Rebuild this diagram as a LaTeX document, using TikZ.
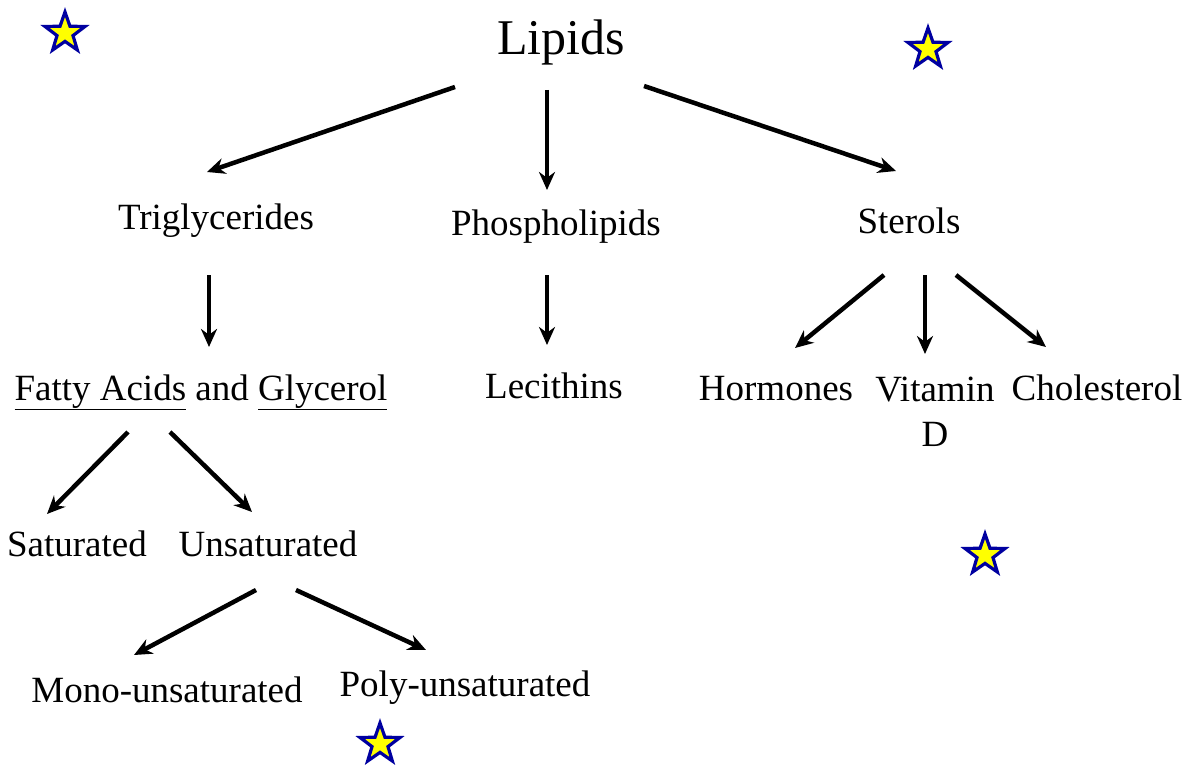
\documentclass[tikz,border=0pt]{standalone}
\usepackage{fontspec}
\setmainfont{Liberation Serif}
\usepackage{tikz}
\usetikzlibrary{arrows.meta,shapes.geometric}
\definecolor{starblue}{RGB}{0,0,160}
\definecolor{staryellow}{RGB}{255,255,0}

\begin{document}
\begin{tikzpicture}[x=1pt,y=-1pt,
  lbl/.style={anchor=base,inner sep=0pt,font=\fontsize{37}{45}\selectfont},
  arr/.style={-{Stealth[length=18pt,width=16pt]},line width=4.5pt},
  starmark/.style={star,star points=5,star point ratio=2.5,minimum size=42pt,
    inner sep=0pt,fill=staryellow,draw=starblue,line width=3.2pt}]
% Page frame
\useasboundingbox (0,0) rectangle (1193,767);

% Top level
\node[lbl,font=\fontsize{50}{58}\selectfont] (lipids) at (561,55) {Lipids};

% Second level
\node[lbl] (trig) at (216,230) {Triglycerides};
\node[lbl] (phos) at (556,236) {Phospholipids};
\node[lbl] (sterols) at (909,234) {Sterols};

% Third level
\node[lbl] (fatty) at (201,400) {\underline{Fatty Acids} and \underline{Glycerol}};
\node[lbl] (lec) at (554,398) {Lecithins};
\node[lbl] (horm) at (776,400) {Hormones};
\node[lbl,align=center] (vit) at (935,446) {Vitamin\\D};
\node[lbl] (chol) at (1097,400) {Cholesterol};

% Fatty acid types
\node[lbl] (sat) at (77,556) {Saturated};
\node[lbl] (unsat) at (268,556) {Unsaturated};
\node[lbl] (mono) at (167,702) {Mono-unsaturated};
\node[lbl] (poly) at (465,696) {Poly-unsaturated};

% Arrows
\draw[arr] ([shift={(-106,32)}]lipids.base) -- ([shift={(-9,-58)}]trig.base);
\draw[arr] ([shift={(-14,35)}]lipids.base) -- ([shift={(-9,-46)}]phos.base);
\draw[arr] ([shift={(83,31)}]lipids.base) -- ([shift={(-13,-63)}]sterols.base);
\draw[arr] ([shift={(-7,45)}]trig.base) -- ([shift={(8,-53)}]fatty.base);
\draw[arr] ([shift={(-9,39)}]phos.base) -- ([shift={(-7,-53)}]lec.base);
\draw[arr] ([shift={(-25,41)}]sterols.base) -- ([shift={(19,-52)}]horm.base);
\draw[arr] ([shift={(16,41)}]sterols.base) -- ([shift={(-10,-92)}]vit.base);
\draw[arr] ([shift={(47,41)}]sterols.base) -- ([shift={(-51,-53)}]chol.base);
\draw[arr] ([shift={(-73,32)}]fatty.base) -- ([shift={(-30,-42)}]sat.base);
\draw[arr] ([shift={(-31,32)}]fatty.base) -- ([shift={(-16,-44)}]unsat.base);
\draw[arr] ([shift={(-12,34)}]unsat.base) -- ([shift={(-33,-47)}]mono.base);
\draw[arr] ([shift={(28,34)}]unsat.base) -- ([shift={(-39,-46)}]poly.base);

% Stars
\node[starmark] (star1) at (65,33) {};
\node[starmark] (star2) at (928,49) {};
\node[starmark] (star3) at (985,555) {};
\node[starmark] (star4) at (380,744) {};

\end{tikzpicture}
\end{document}
